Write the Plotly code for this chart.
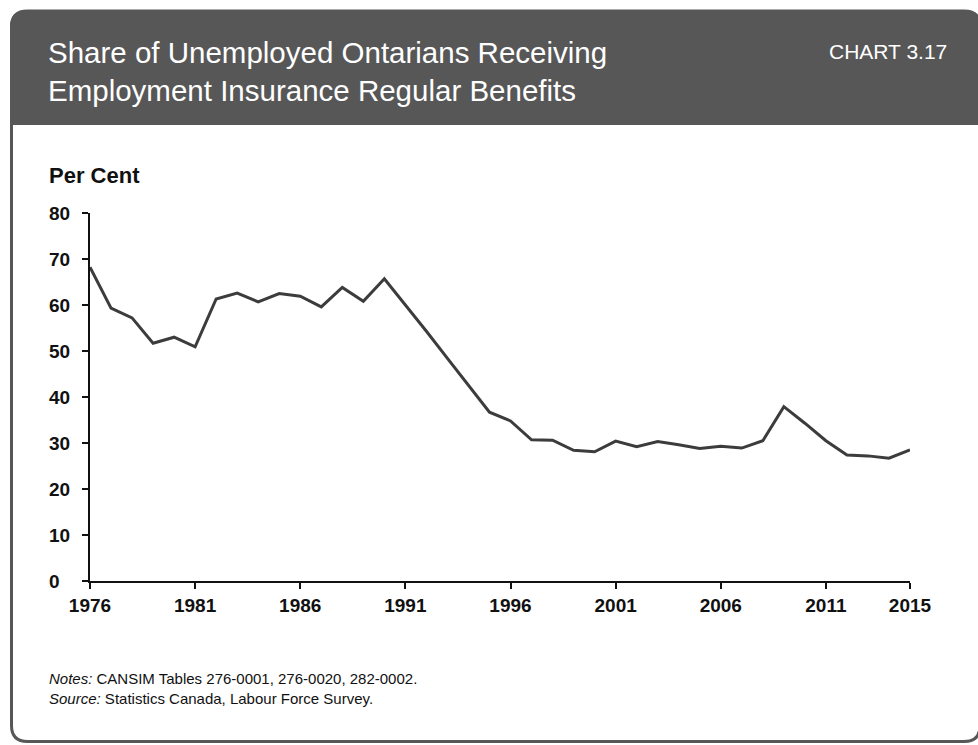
import plotly.graph_objects as go

years = list(range(1976, 2016))
share = [68.2, 59.3, 57.2, 51.7, 53.0, 50.9, 61.3, 62.6, 60.7, 62.5,
         61.9, 59.6, 63.8, 60.8, 65.7, 60.1, 54.3, 48.4, 42.5, 36.7,
         34.8, 30.7, 30.6, 28.4, 28.1, 30.4, 29.2, 30.3, 29.6, 28.8,
         29.3, 28.9, 30.5, 37.9, 34.3, 30.5, 27.4, 27.2, 26.7, 28.5]
x_ticks = [1976, 1981, 1986, 1991, 1996, 2001, 2006, 2011, 2015]
y_ticks = [0, 10, 20, 30, 40, 50, 60, 70, 80]

W, H = 978, 745
L, R, T, B = 90, 910, 213, 581  # plot area in pixels

def px(x):
    return (x - L) / (R - L)

def py(y):
    return (B - y) / (B - T)

def rounded_path(x0, y0, x1, y1, rtl, rtr, rbr, rbl):
    pts = []
    pts.append(f"M {px(x0 + rtl)},{py(y0)}")
    pts.append(f"L {px(x1 - rtr)},{py(y0)}")
    if rtr:
        pts.append(f"Q {px(x1)},{py(y0)} {px(x1)},{py(y0 + rtr)}")
    pts.append(f"L {px(x1)},{py(y1 - rbr)}")
    if rbr:
        pts.append(f"Q {px(x1)},{py(y1)} {px(x1 - rbr)},{py(y1)}")
    pts.append(f"L {px(x0 + rbl)},{py(y1)}")
    if rbl:
        pts.append(f"Q {px(x0)},{py(y1)} {px(x0)},{py(y1 - rbl)}")
    pts.append(f"L {px(x0)},{py(y0 + rtl)}")
    if rtl:
        pts.append(f"Q {px(x0)},{py(y0)} {px(x0 + rtl)},{py(y0)}")
    pts.append("Z")
    return " ".join(pts)

DARK = "#575757"
TXT = "#111111"
fig = go.Figure()
fig.add_trace(go.Scatter(x=years, y=share, mode="lines",
                         line=dict(color="#3c3c3c", width=3), hoverinfo="x+y"))

shapes = [
    dict(type="path", xref="paper", yref="paper", layer="below",
         path=rounded_path(11.5, 11, 980, 741.5, 16, 16, 16, 16),
         line=dict(color=DARK, width=3), fillcolor="white"),
    dict(type="path", xref="paper", yref="paper", layer="below",
         path=rounded_path(10, 10, 981.5, 125, 17, 17, 0, 0),
         line=dict(color=DARK, width=0), fillcolor=DARK),
]

FONT = "Liberation Sans Narrow, Arial Narrow, Liberation Sans, Arial, sans-serif"
annotations = [
    dict(text="Share of Unemployed Ontarians Receiving<br>Employment Insurance Regular Benefits",
         x=px(46), y=py(34), xref="paper", yref="paper", xanchor="left", yanchor="top",
         align="left", showarrow=False,
         font=dict(family=FONT, size=29.5, color="white")),
    dict(text="CHART 3.17", x=px(949), y=py(38), xref="paper", yref="paper",
         xanchor="right", yanchor="top", showarrow=False,
         font=dict(family=FONT, size=21, color="white")),
    dict(text="<b>Per Cent</b>", x=px(47), y=py(175), xref="paper", yref="paper",
         xanchor="left", yanchor="middle", showarrow=False,
         font=dict(family=FONT, size=22, color=TXT)),
    dict(text="<i>Notes:</i> CANSIM Tables 276-0001, 276-0020, 282-0002.<br><i>Source:</i> Statistics Canada, Labour Force Survey.",
         x=px(47), y=py(668), xref="paper", yref="paper", xanchor="left", yanchor="top",
         align="left", showarrow=False,
         font=dict(family=FONT, size=15, color=TXT)),
]
# y-axis tick labels, left aligned as in the reference, placed on the y scale
for v in y_ticks:
    annotations.append(dict(text=f"<b>{v}</b>", x=px(47), y=v, xref="paper", yref="y",
                            xanchor="left", yanchor="middle", showarrow=False,
                            font=dict(family=FONT, size=19, color=TXT)))

fig.update_layout(
    width=W, height=H,
    margin=dict(l=L, r=W - R, t=T, b=H - B, pad=0),
    paper_bgcolor="white", plot_bgcolor="rgba(0,0,0,0)",
    showlegend=False, shapes=shapes, annotations=annotations,
    font=dict(family=FONT, color=TXT),
)
fig.update_xaxes(range=[1976, 2015], tickvals=x_ticks, ticktext=[f"<b>{v}</b>" for v in x_ticks],
                 showgrid=False, zeroline=False, showline=True, linecolor=TXT, linewidth=2,
                 ticks="outside", ticklen=6, tickwidth=2, tickcolor=TXT,
                 tickfont=dict(family=FONT, size=19, color=TXT))
fig.update_yaxes(range=[0, 80], tickvals=y_ticks, showticklabels=False,
                 showgrid=False, zeroline=False, showline=True, linecolor=TXT, linewidth=2,
                 ticks="outside", ticklen=6, tickwidth=2, tickcolor=TXT)

fig.write_html("out.html", config={"displayModeBar": False},
               post_script="document.body.style.margin='0';document.body.style.padding='0';")
